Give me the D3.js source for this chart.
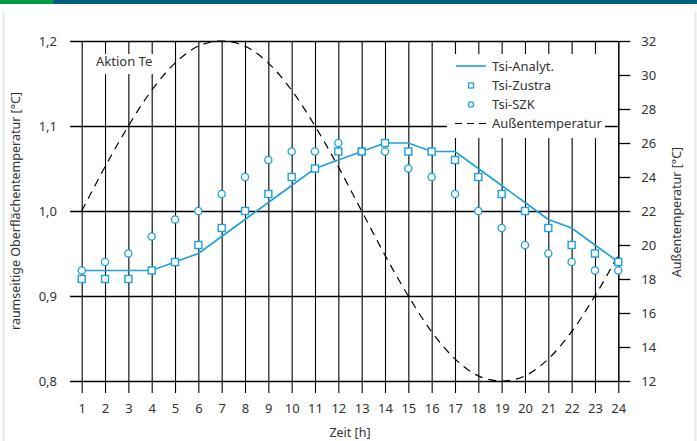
<!DOCTYPE html>
<html>
<head>
<meta charset="utf-8">
<script src="https://cdn.jsdelivr.net/npm/d3@7"></script>
<style>
  html, body { margin: 0; padding: 0; background: #fff; }
  svg { display: block; }
  text { font-family: "Noto Sans", "Open Sans", sans-serif; fill: #333; }
</style>
</head>
<body>
<svg id="chart" width="697" height="441"></svg>
<script>
// Hours of the day
const hours = d3.range(1, 25);

// Inner surface temperature ratio, analytic solution
const tsiAnalyt = [0.93, 0.93, 0.93, 0.93, 0.94, 0.95, 0.97, 0.99, 1.01, 1.03, 1.05, 1.06,
                   1.07, 1.08, 1.08, 1.07, 1.07, 1.05, 1.03, 1.01, 0.99, 0.98, 0.96, 0.94];
// Inner surface temperature ratio, Zustra model
const tsiZustra = [0.92, 0.92, 0.92, 0.93, 0.94, 0.96, 0.98, 1.00, 1.02, 1.04, 1.05, 1.07,
                   1.07, 1.08, 1.07, 1.07, 1.06, 1.04, 1.02, 1.00, 0.98, 0.96, 0.95, 0.94];
// Inner surface temperature ratio, SZK model
const tsiSZK = [0.93, 0.94, 0.95, 0.97, 0.99, 1.00, 1.02, 1.04, 1.06, 1.07, 1.07, 1.08,
                1.07, 1.07, 1.05, 1.04, 1.02, 1.00, 0.98, 0.96, 0.95, 0.94, 0.93, 0.93];
// Outside air temperature [°C]
const aussenTemp = [22.0, 24.6, 27.0, 29.1, 30.7, 31.7, 32.0, 31.7, 30.7, 29.1, 27.0, 24.6,
                    22.0, 19.4, 17.0, 14.9, 13.3, 12.3, 12.0, 12.3, 13.3, 14.9, 17.0, 19.4];

const leftTicks = [0.8, 0.9, 1.0, 1.1, 1.2];
const rightTicks = [12, 14, 16, 18, 20, 22, 24, 26, 28, 30, 32];
const legendLabels = ["Tsi-Analyt.", "Tsi-Zustra", "Tsi-SZK", "Außentemperatur"];

const blue = "#1ea0dc";
const svg = d3.select("#chart");

// Header bar and frame
svg.append("rect").attr("x", 0).attr("y", 0).attr("width", 697).attr("height", 4).attr("fill", "#00617f");
svg.append("rect").attr("x", 0).attr("y", 0).attr("width", 53).attr("height", 4).attr("fill", "#009a44");
svg.append("rect").attr("x", 2.5).attr("y", 12).attr("width", 2).attr("height", 429).attr("fill", "#e3e8ec");
svg.append("rect").attr("x", 694.5).attr("y", 12).attr("width", 2).attr("height", 429).attr("fill", "#e3e8ec");

const x = d3.scaleLinear().domain([1, 24]).range([81.7, 618.3]);
const yL = d3.scaleLinear().domain([0.8, 1.2]).range([381, 41]);
const yR = d3.scaleLinear().domain([12, 32]).range([381, 41]);
const plotLeft = 70, plotRight = 618.3;

// Vertical hour grid with labels
const xAxis = svg.append("g")
  .attr("transform", "translate(0,393)")
  .call(d3.axisBottom(x).tickValues(hours).tickFormat(d3.format("d"))
        .tickSize(-352).tickPadding(11));
xAxis.select(".domain").remove();
xAxis.selectAll(".tick line").attr("stroke", "#000").attr("stroke-width", 1.1);
xAxis.selectAll(".tick text").attr("font-size", 13).attr("fill", "#333")
  .style("font-family", '"Noto Sans", sans-serif');

// Horizontal grid with left labels
const yAxisL = svg.append("g")
  .attr("transform", `translate(${plotLeft},0)`)
  .call(d3.axisLeft(yL).tickValues(leftTicks).tickFormat(d => d3.format(".1f")(d).replace(".", ","))
        .tickSize(-(plotRight - plotLeft)).tickPadding(13));
yAxisL.select(".domain").remove();
yAxisL.selectAll(".tick line").attr("stroke", "#000").attr("stroke-width", 1.3);
yAxisL.selectAll(".tick text").attr("font-size", 13).attr("fill", "#333")
  .style("font-family", '"Noto Sans", sans-serif');

// Right axis for outside temperature
const yAxisR = svg.append("g")
  .attr("transform", `translate(${plotRight},0)`)
  .call(d3.axisRight(yR).tickValues(rightTicks).tickFormat(d3.format("d"))
        .tickSize(12).tickSizeOuter(0).tickPadding(11));
yAxisR.select(".domain").attr("stroke", "#000").attr("stroke-width", 1.1);
yAxisR.selectAll(".tick line").attr("stroke", "#000").attr("stroke-width", 1.3);
yAxisR.selectAll(".tick text").attr("font-size", 13).attr("fill", "#333")
  .style("font-family", '"Noto Sans", sans-serif');

// Axis titles
svg.append("text").attr("transform", "translate(20,211) rotate(-90)")
  .attr("text-anchor", "middle").attr("font-size", 12.5)
  .text("raumseitige Oberflächentemperatur [°C]");
svg.append("text").attr("transform", "translate(681,212) rotate(-90)")
  .attr("text-anchor", "middle").attr("font-size", 12.5)
  .text("Außentemperatur [°C]");
svg.append("text").attr("x", 350).attr("y", 437).attr("text-anchor", "middle")
  .attr("font-size", 12.5).text("Zeit [h]");

// Scenario label on a white patch over the grid
svg.append("rect").attr("x", 93).attr("y", 54).attr("width", 62).attr("height", 20).attr("fill", "#fff");
svg.append("text").attr("x", 96).attr("y", 66).attr("font-size", 13).text("Aktion Te");

// Outside temperature curve (dashed)
svg.append("path")
  .datum(hours.map((h, i) => [h, aussenTemp[i]]))
  .attr("fill", "none").attr("stroke", "#000").attr("stroke-width", 1.2)
  .attr("stroke-dasharray", "8,6")
  .attr("d", d3.line().x(d => x(d[0])).y(d => yR(d[1])).curve(d3.curveCatmullRom));

// Analytic inner surface curve
svg.append("path")
  .datum(hours.map((h, i) => [h, tsiAnalyt[i]]))
  .attr("fill", "none").attr("stroke", blue).attr("stroke-width", 1.6)
  .attr("d", d3.line().x(d => x(d[0])).y(d => yL(d[1])));

// Zustra markers
svg.append("g").selectAll("rect")
  .data(hours.map((h, i) => [h, tsiZustra[i]]))
  .join("rect")
  .attr("x", d => x(d[0]) - 3.5).attr("y", d => yL(d[1]) - 3.5)
  .attr("width", 7).attr("height", 7)
  .attr("fill", "#fff").attr("stroke", blue).attr("stroke-width", 1.4);

// SZK markers
svg.append("g").selectAll("circle")
  .data(hours.map((h, i) => [h, tsiSZK[i]]))
  .join("circle")
  .attr("cx", d => x(d[0])).attr("cy", d => yL(d[1])).attr("r", 3.6)
  .attr("fill", "#fff").attr("stroke", blue).attr("stroke-width", 1.3);

// Legend
const lg = svg.append("g");
lg.append("rect").attr("x", 447).attr("y", 54).attr("width", 158).attr("height", 84).attr("fill", "#fff");
const rowY = [66, 85.5, 104.5, 123.5];
lg.append("line").attr("x1", 456).attr("x2", 486).attr("y1", rowY[0]).attr("y2", rowY[0])
  .attr("stroke", blue).attr("stroke-width", 1.6);
lg.append("rect").attr("x", 468.5).attr("y", rowY[1] - 2.5).attr("width", 5).attr("height", 5)
  .attr("fill", "#fff").attr("stroke", blue).attr("stroke-width", 1.3);
lg.append("circle").attr("cx", 471).attr("cy", rowY[2]).attr("r", 2.6)
  .attr("fill", "#fff").attr("stroke", blue).attr("stroke-width", 1.3);
lg.append("line").attr("x1", 455).attr("x2", 486).attr("y1", rowY[3]).attr("y2", rowY[3])
  .attr("stroke", "#000").attr("stroke-width", 1.2).attr("stroke-dasharray", "7,5");
lg.selectAll("text.lbl").data(legendLabels).join("text")
  .attr("class", "lbl").attr("x", 492).attr("y", (d, i) => rowY[i] + 4.5)
  .attr("font-size", 13).text(d => d);
</script>
</body>
</html>
